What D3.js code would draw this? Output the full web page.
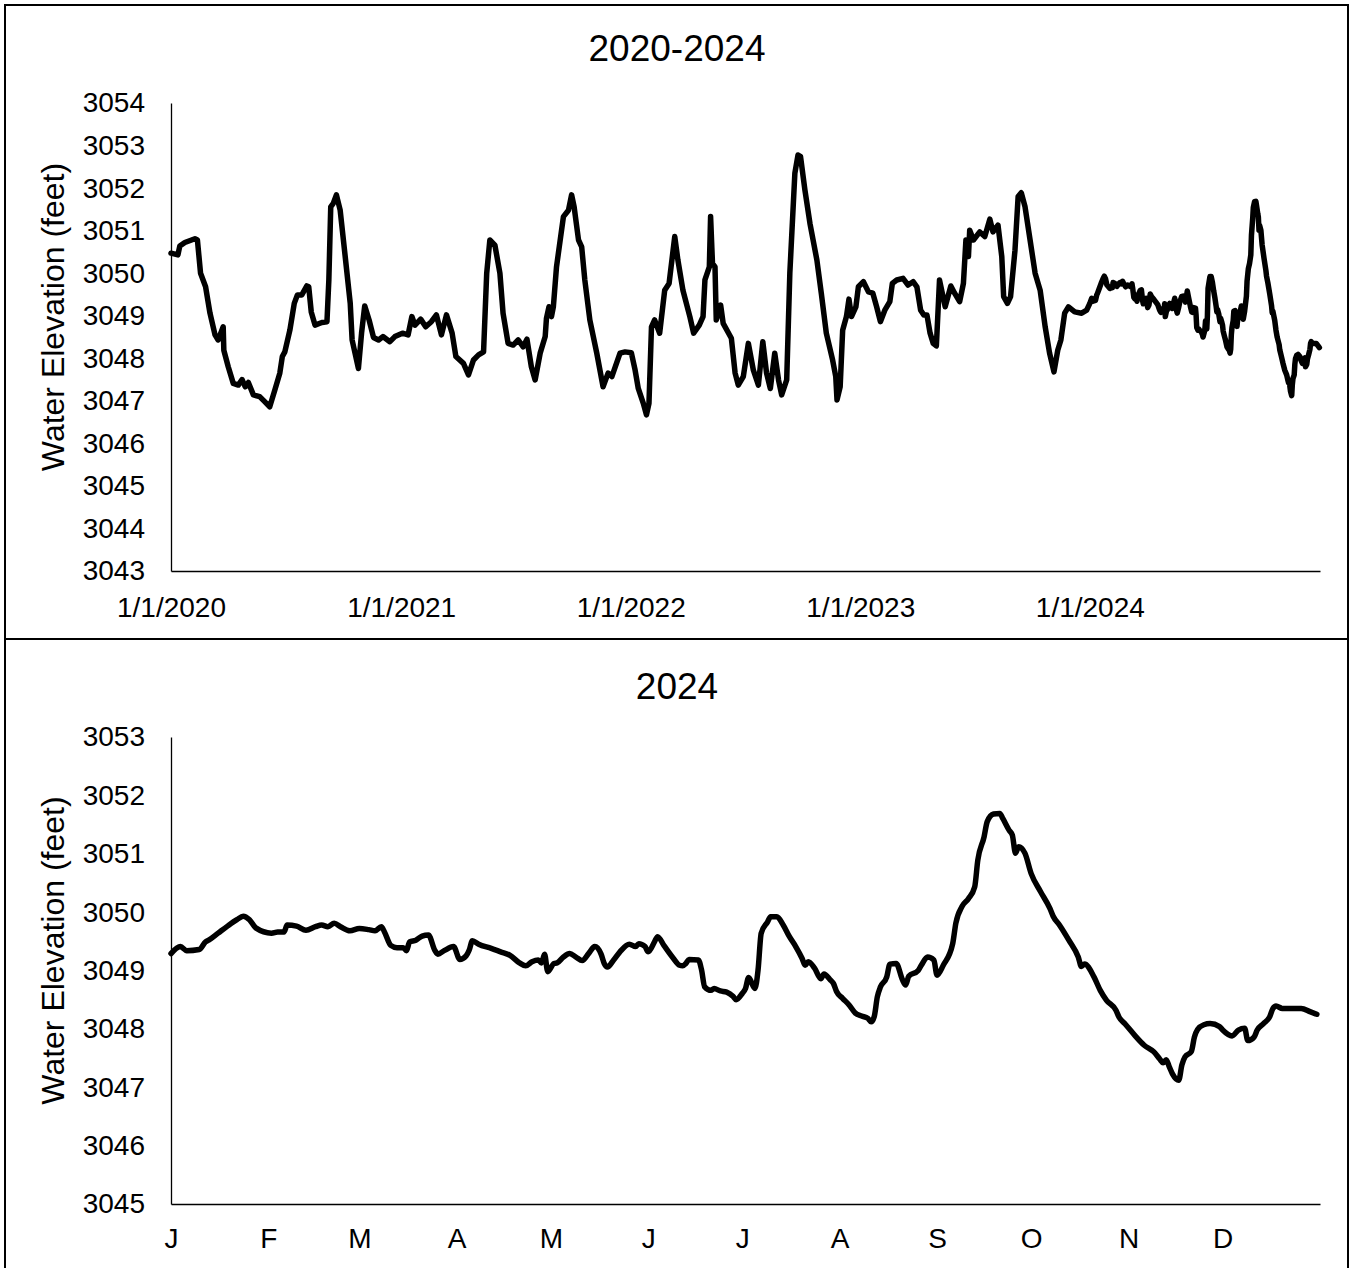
<!DOCTYPE html>
<html>
<head>
<meta charset="utf-8">
<script src="https://cdn.jsdelivr.net/npm/d3@7"></script>
<style>
  body { margin: 0; background: #fff; }
  text { font-family: "Liberation Sans", Arial, sans-serif; fill: #000; }
</style>
</head>
<body>
<svg id="chart"></svg>
<script>
/* data */
// 2020-2023: days since 1/1/2020, elevation in feet
var histDays = [0, 11, 14, 22, 38, 42, 47, 55, 62, 70, 75, 83, 84, 91, 99, 107, 113, 118, 123, 131,
  141, 149, 157, 165, 173, 177, 181, 189, 196, 201, 208, 216, 219, 223, 229, 240, 248, 251, 254, 258,
  263, 269, 277, 285, 288, 298, 303, 308, 315, 322, 330, 337, 348, 356, 368, 377, 383, 388, 397, 405,
  414, 422, 430, 438, 447, 453, 465, 473, 481, 489, 497, 502, 507, 515, 523, 528, 536, 544, 552, 560,
  566, 573, 579, 587, 595, 597, 601, 605, 608, 613, 624, 632, 637, 641, 648, 653, 658, 666, 677, 687,
  695, 701, 714, 722, 732, 738, 743, 751, 756, 760, 764, 769, 777, 785, 792, 801, 806, 814, 825, 831,
  840, 846, 849, 856, 858, 861, 865, 867, 874, 878, 891, 897, 902, 910, 918, 926, 934, 941, 947, 953,
  960, 966, 971, 979, 984, 992, 997, 1001, 1008, 1016, 1027, 1034, 1042, 1052, 1057, 1059, 1064, 1068, 1074, 1078,
  1082, 1089, 1093, 1101, 1109, 1116, 1122, 1128, 1135, 1143, 1147, 1154, 1164, 1172, 1180, 1186, 1192, 1197, 1202, 1207,
  1212, 1217, 1222, 1231, 1240, 1246, 1254, 1260, 1264, 1268, 1270, 1276, 1286, 1294, 1302, 1307, 1315, 1321, 1324, 1330,
  1335, 1342, 1347, 1352, 1358, 1366, 1374, 1382, 1390, 1397, 1404, 1410, 1415, 1421, 1427, 1437, 1448, 1456];
var histElev = [3050.47, 3050.43, 3050.64, 3050.72, 3050.81, 3050.78, 3050.00, 3049.68, 3049.06, 3048.55, 3048.43, 3048.74, 3048.19, 3047.80, 3047.41, 3047.37, 3047.50, 3047.33, 3047.43, 3047.14,
  3047.10, 3046.98, 3046.86, 3047.25, 3047.65, 3048.04, 3048.15, 3048.66, 3049.29, 3049.49, 3049.49, 3049.70, 3049.68, 3049.09, 3048.78, 3048.84, 3048.86, 3049.84, 3051.56, 3051.64,
  3051.84, 3051.48, 3050.39, 3049.29, 3048.43, 3047.76, 3048.59, 3049.23, 3048.90, 3048.49, 3048.43, 3048.51, 3048.39, 3048.51, 3048.59, 3048.55, 3048.98, 3048.78, 3048.92, 3048.74,
  3048.86, 3049.02, 3048.55, 3049.02, 3048.59, 3048.04, 3047.88, 3047.61, 3047.96, 3048.08, 3048.15, 3050.00, 3050.78, 3050.66, 3050.00, 3049.06, 3048.35, 3048.31, 3048.43, 3048.27,
  3048.45, 3047.80, 3047.49, 3048.12, 3048.51, 3048.94, 3049.21, 3048.98, 3049.21, 3050.15, 3051.33, 3051.48, 3051.84, 3051.56, 3050.78, 3050.62, 3049.84, 3048.90, 3048.12, 3047.33,
  3047.65, 3047.57, 3048.12, 3048.15, 3048.13, 3047.72, 3047.29, 3046.94, 3046.67, 3046.94, 3048.74, 3048.90, 3048.59, 3049.60, 3049.76, 3050.86, 3050.31, 3049.60, 3048.98, 3048.59,
  3048.78, 3048.98, 3049.84, 3050.15, 3051.33, 3050.23, 3050.15, 3048.90, 3049.25, 3048.82, 3048.47, 3047.65, 3047.37, 3047.57, 3048.35, 3047.72, 3047.37, 3048.39, 3047.65, 3047.29,
  3048.12, 3047.49, 3047.14, 3047.49, 3050.00, 3052.35, 3052.78, 3052.74, 3051.95, 3051.17, 3050.31, 3049.53, 3048.59, 3047.96, 3047.57, 3047.02, 3047.33, 3048.66, 3048.98, 3049.39,
  3048.98, 3049.21, 3049.68, 3049.80, 3049.56, 3049.53, 3049.21, 3048.86, 3049.13, 3049.33, 3049.76, 3049.84, 3049.88, 3049.72, 3049.80, 3049.68, 3049.13, 3049.02, 3049.02, 3048.59,
  3048.35, 3048.29, 3049.84, 3049.21, 3049.70, 3049.53, 3049.33, 3049.76, 3050.78, 3050.39, 3051.01, 3050.78, 3050.97, 3050.86, 3051.27, 3050.97, 3051.13, 3050.39, 3049.45, 3049.29,
  3049.45, 3050.54, 3051.80, 3051.89, 3051.56, 3050.78, 3050.00, 3049.60, 3048.74, 3048.12, 3047.68, 3048.19, 3048.43, 3049.06, 3049.21, 3049.09, 3049.06, 3049.13];

// 2024: day of year (0 = Jan 1), elevation in feet
var days2024 = [0, 3, 5, 9, 11, 12, 15, 18, 21, 23, 25, 27, 32, 34, 36, 37, 40, 43, 46, 48,
  50, 52, 54, 57, 60, 63, 65, 67, 68, 70, 72, 74, 75, 76, 78, 80, 82, 84, 85, 87,
  90, 92, 94, 95, 96, 98, 102, 105, 108, 111, 113, 115, 117, 118, 119, 120, 122, 123, 125, 127,
  129, 131, 133, 135, 137, 138, 139, 141, 143, 146, 148, 149, 151, 152, 154, 155, 157, 160, 162, 163,
  164, 165, 168, 169, 170, 172, 173, 175, 177, 179, 180, 182, 183, 184, 186, 187, 188, 190, 191, 193,
  195, 197, 199, 201, 202, 203, 205, 207, 208, 210, 211, 212, 214, 216, 218, 220, 222, 223, 224, 225,
  226, 228, 229, 231, 233, 234, 235, 238, 239, 241, 243, 244, 246, 249, 250, 252, 254, 256, 257, 259,
  260, 262, 264, 265, 267, 268, 269, 270, 272, 274, 277, 280, 281, 283, 286, 289, 290, 291, 294, 296,
  298, 301, 302, 304, 307, 310, 313, 315, 316, 317, 318, 319, 321, 322, 323, 325, 326, 327, 329, 331,
  334, 335, 338, 340, 342, 343, 345, 346, 348, 350, 351, 352, 354, 357, 360, 363, 365];
var elev2024 = [3049.29, 3049.41, 3049.34, 3049.36, 3049.49, 3049.52, 3049.64, 3049.76, 3049.87, 3049.93, 3049.87, 3049.73, 3049.64, 3049.66, 3049.66, 3049.78, 3049.76, 3049.69, 3049.75, 3049.78,
  3049.75, 3049.81, 3049.75, 3049.68, 3049.72, 3049.70, 3049.68, 3049.75, 3049.66, 3049.43, 3049.39, 3049.39, 3049.34, 3049.49, 3049.52, 3049.59, 3049.61, 3049.35, 3049.28, 3049.34,
  3049.41, 3049.19, 3049.25, 3049.35, 3049.51, 3049.45, 3049.38, 3049.32, 3049.26, 3049.13, 3049.08, 3049.15, 3049.18, 3049.13, 3049.28, 3048.98, 3049.12, 3049.13, 3049.23, 3049.29,
  3049.23, 3049.17, 3049.29, 3049.41, 3049.28, 3049.12, 3049.06, 3049.18, 3049.32, 3049.45, 3049.41, 3049.46, 3049.41, 3049.32, 3049.49, 3049.58, 3049.43, 3049.21, 3049.09, 3049.08,
  3049.12, 3049.19, 3049.18, 3049.01, 3048.72, 3048.66, 3048.69, 3048.65, 3048.63, 3048.56, 3048.50, 3048.61, 3048.69, 3048.88, 3048.69, 3049.01, 3049.64, 3049.83, 3049.92, 3049.92,
  3049.78, 3049.58, 3049.41, 3049.21, 3049.09, 3049.15, 3049.04, 3048.86, 3048.94, 3048.84, 3048.78, 3048.64, 3048.52, 3048.41, 3048.27, 3048.22, 3048.18, 3048.12, 3048.21, 3048.55,
  3048.72, 3048.89, 3049.11, 3049.12, 3048.84, 3048.75, 3048.90, 3049.00, 3049.09, 3049.23, 3049.18, 3048.92, 3049.09, 3049.46, 3049.81, 3050.10, 3050.23, 3050.43, 3050.89, 3051.29,
  3051.55, 3051.68, 3051.69, 3051.60, 3051.40, 3051.32, 3051.01, 3051.12, 3051.01, 3050.66, 3050.35, 3050.06, 3049.93, 3049.78, 3049.52, 3049.23, 3049.07, 3049.11, 3048.89, 3048.66,
  3048.49, 3048.32, 3048.20, 3048.08, 3047.89, 3047.72, 3047.61, 3047.48, 3047.42, 3047.47, 3047.35, 3047.23, 3047.12, 3047.38, 3047.52, 3047.61, 3047.86, 3047.99, 3048.07, 3048.09,
  3048.04, 3047.98, 3047.88, 3047.98, 3048.01, 3047.80, 3047.86, 3047.98, 3048.09, 3048.21, 3048.35, 3048.39, 3048.35, 3048.35, 3048.35, 3048.29, 3048.25];

var yearLabels = ['1/1/2020', '1/1/2021', '1/1/2022', '1/1/2023', '1/1/2024'];
var monthLabels = ['J', 'F', 'M', 'A', 'M', 'J', 'J', 'A', 'S', 'O', 'N', 'D'];
var yTitle = 'Water Elevation (feet)';

/* build the two series */
var start2020 = new Date(2020, 0, 1);
var start2024 = new Date(2024, 0, 1);

var series2024 = days2024.map(function (d, i) {
  return { date: d3.timeDay.offset(start2024, d), value: elev2024[i] };
});
var seriesAll = histDays.map(function (d, i) {
  return { date: d3.timeDay.offset(start2020, d), value: histElev[i] };
}).concat(series2024);

var width = 1356;
var height = 1268;

var svg = d3.select('#chart')
  .attr('width', width)
  .attr('height', height);

svg.append('rect')
  .attr('width', width).attr('height', height)
  .attr('fill', '#fff');

function drawPanel (cfg) {
  var g = svg.append('g');

  g.append('rect')
    .attr('x', 5).attr('y', cfg.top)
    .attr('width', 1343).attr('height', cfg.boxHeight)
    .attr('fill', 'none')
    .attr('stroke', '#000')
    .attr('stroke-width', 2);

  var x = d3.scaleTime().domain(cfg.xDomain).range([171, 1320]);
  var y = d3.scaleLinear().domain(cfg.yDomain).range([cfg.plotBottom, cfg.plotTop]);

  var yAxis = d3.axisLeft(y)
    .tickValues(d3.range(cfg.yDomain[0], cfg.yDomain[1] + 1))
    .tickFormat(d3.format('d'))
    .tickSize(0)
    .tickPadding(26);

  var xAxis = d3.axisBottom(x)
    .tickValues(cfg.xTicks)
    .tickFormat(function (d, i) { return cfg.xLabels[i]; })
    .tickSize(0)
    .tickPadding(cfg.xPad);

  g.append('g')
    .attr('transform', 'translate(171,0)')
    .call(yAxis)
    .call(function (a) {
      a.select('.domain').attr('stroke', '#000').attr('stroke-width', 1.3);
      a.selectAll('text').style('font-size', '28px').attr('fill', '#000');
    });

  g.append('g')
    .attr('transform', 'translate(0,' + cfg.plotBottom + ')')
    .call(xAxis)
    .call(function (a) {
      a.select('.domain').attr('stroke', '#000').attr('stroke-width', 1.3);
      a.selectAll('text').style('font-size', '28px').attr('fill', '#000');
    });

  // title
  g.append('text')
    .attr('x', 677)
    .attr('y', cfg.titleY)
    .attr('text-anchor', 'middle')
    .style('font-size', '37px')
    .text(cfg.title);

  // y axis title, sits a little above the plot middle like the original
  g.append('text')
    .attr('transform', 'translate(64,' + ((cfg.plotTop + cfg.plotBottom) / 2 - 20) + ') rotate(-90)')
    .attr('text-anchor', 'middle')
    .style('font-size', '32px')
    .text(yTitle);

  var line = d3.line()
    .x(function (d) { return x(d.date); })
    .y(function (d) { return y(d.value); })
    .curve(cfg.curve);

  g.append('path')
    .datum(cfg.data)
    .attr('d', line)
    .attr('fill', 'none')
    .attr('stroke', '#000')
    .attr('stroke-width', 5.5)
    .attr('stroke-linejoin', 'round')
    .attr('stroke-linecap', 'round');
}

drawPanel({
  top: 5,
  boxHeight: 634,
  plotTop: 103,
  plotBottom: 571,
  title: '2020-2024',
  titleY: 61,
  xDomain: [start2020, new Date(2025, 0, 1)],
  yDomain: [3043, 3054],
  xTicks: yearLabels.map(function (l, i) { return new Date(2020 + i, 0, 1); }),
  xLabels: yearLabels,
  xPad: 26,
  curve: d3.curveLinear,
  data: seriesAll
});

drawPanel({
  top: 639,
  boxHeight: 640,
  plotTop: 737,
  plotBottom: 1204,
  title: '2024',
  titleY: 699,
  xDomain: [start2024, new Date(2025, 0, 1)],
  yDomain: [3045, 3053],
  xTicks: monthLabels.map(function (l, i) { return new Date(2024, i, 1); }),
  xLabels: monthLabels,
  xPad: 24,
  curve: d3.curveMonotoneX,
  data: series2024
});
</script>
</body>
</html>
